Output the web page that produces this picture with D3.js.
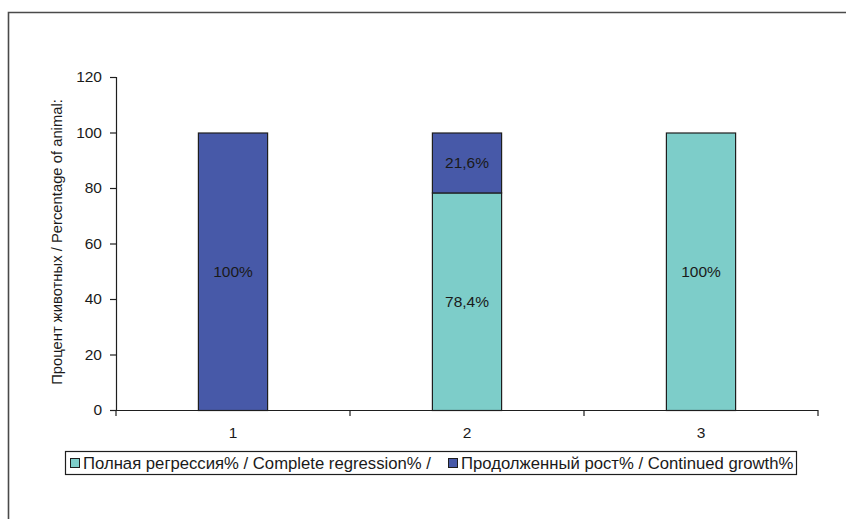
<!DOCTYPE html>
<html>
<head>
<meta charset="utf-8">
<script src="https://cdn.jsdelivr.net/npm/d3@7"></script>
<style>
  html, body { margin: 0; padding: 0; background: #fff; }
  svg { display: block; }
  text { font-family: "Liberation Sans", Arial, sans-serif; fill: #1a1a1a; }
</style>
</head>
<body>
<script>
// Groups on the x axis
const categories = ["1", "2", "3"];
// Share of animals per group, %
const completeRegression = [0, 78.4, 100];
const continuedGrowth = [100, 21.6, 0];
// Label text shown inside each segment
const regressionLabels = ["", "78,4%", "100%"];
const growthLabels = ["100%", "21,6%", ""];
const yTicks = [0, 20, 40, 60, 80, 100, 120];

const seriesNames = [
  "Полная регрессия% / Complete regression% /",
  "Продолженный рост% / Continued growth%"
];
const colors = ["#7dcdc9", "#4759a8"];

const W = 846, H = 519;
const svg = d3.select("body").append("svg").attr("width", W).attr("height", H);

// outer frame (runs off the right and bottom edges)
svg.append("path")
  .attr("d", `M8.5,${H + 2} V12.5 H${W + 2}`)
  .attr("fill", "none").attr("stroke", "#4a4a4a").attr("stroke-width", 1.6);

const plot = { left: 116, right: 818, top: 77, bottom: 410 };

const x = d3.scaleBand().domain(categories)
  .range([plot.left, plot.right])
  .paddingInner(0.7).paddingOuter(0.35);
const xGroup = d3.scaleBand().domain(categories).range([plot.left, plot.right]).padding(0);
const y = d3.scaleLinear().domain([0, 120]).range([plot.bottom, plot.top]);

const rows = categories.map((c, i) => ({ cat: c, reg: completeRegression[i], grow: continuedGrowth[i] }));
const stack = d3.stack().keys(["reg", "grow"])(rows);

const labelsByKey = { reg: regressionLabels, grow: growthLabels };

stack.forEach((layer, k) => {
  const g = svg.append("g");
  g.selectAll("rect").data(layer.filter(d => d[1] - d[0] > 0)).enter().append("rect")
    .attr("x", d => x(d.data.cat) + 0.5)
    .attr("y", d => y(d[1]) + 0.5)
    .attr("width", x.bandwidth() - 1)
    .attr("height", d => y(d[0]) - y(d[1]))
    .attr("fill", colors[k])
    .attr("stroke", "#1e1e1e").attr("stroke-width", 1.2);
  g.selectAll("text").data(layer.filter(d => d[1] - d[0] > 0)).enter().append("text")
    .attr("x", d => x(d.data.cat) + x.bandwidth() / 2)
    .attr("y", d => y((d[0] + d[1]) / 2))
    .attr("dy", "0.35em")
    .attr("text-anchor", "middle")
    .attr("font-size", 15.5)
    .text(d => labelsByKey[layer.key][categories.indexOf(d.data.cat)]);
});

// y axis
const yAxis = d3.axisLeft(y).tickValues(yTicks).tickSize(6).tickPadding(8);
const gy = svg.append("g").attr("transform", `translate(${plot.left},0)`).call(yAxis);
gy.select(".domain").attr("stroke", "#1e1e1e").attr("stroke-width", 1.2)
  .attr("d", `M-6,${plot.top}.5H0.5V${plot.bottom}`);
gy.selectAll(".tick line").attr("stroke", "#1e1e1e").attr("stroke-width", 1.2);
gy.selectAll(".tick text").attr("font-size", 15.5).attr("fill", "#1a1a1a")
  .attr("font-family", "'Liberation Sans', Arial, sans-serif");

// x axis with ticks on group boundaries
const gx = svg.append("g").attr("transform", `translate(0,${plot.bottom})`);
gx.append("line").attr("x1", plot.left).attr("x2", plot.right).attr("y1", 0.5).attr("y2", 0.5)
  .attr("stroke", "#1e1e1e").attr("stroke-width", 1.2);
const bounds = categories.map(c => xGroup(c)).concat([plot.right]);
gx.selectAll("line.tk").data(bounds).enter().append("line").attr("class", "tk")
  .attr("x1", d => d).attr("x2", d => d).attr("y1", 0).attr("y2", 6)
  .attr("stroke", "#1e1e1e").attr("stroke-width", 1.2);
gx.selectAll("text").data(categories).enter().append("text")
  .attr("x", d => x(d) + x.bandwidth() / 2)
  .attr("y", 23)
  .attr("dy", "0.35em")
  .attr("text-anchor", "middle")
  .attr("font-size", 15.5)
  .text(d => d);

// y axis title
svg.append("text")
  .attr("transform", `translate(62,242) rotate(-90)`)
  .attr("text-anchor", "middle")
  .attr("font-size", 14.8)
  .text("Процент животных / Percentage of animal:");

// legend
const lg = svg.append("g");
lg.append("rect").attr("x", 65.5).attr("y", 451.5).attr("width", 731).attr("height", 23)
  .attr("fill", "#fff").attr("stroke", "#1e1e1e").attr("stroke-width", 1.2);
const items = [{ x: 70, name: seriesNames[0], c: colors[0] }, { x: 448, name: seriesNames[1], c: colors[1] }];
items.forEach(it => {
  lg.append("rect").attr("x", it.x + 0.5).attr("y", 458.5).attr("width", 9).attr("height", 9)
    .attr("fill", it.c).attr("stroke", "#1e1e1e").attr("stroke-width", 1);
  lg.append("text").attr("x", it.x + 13).attr("y", 463).attr("dy", "0.35em")
    .attr("font-size", 16.7).text(it.name);
});
</script>
</body>
</html>
